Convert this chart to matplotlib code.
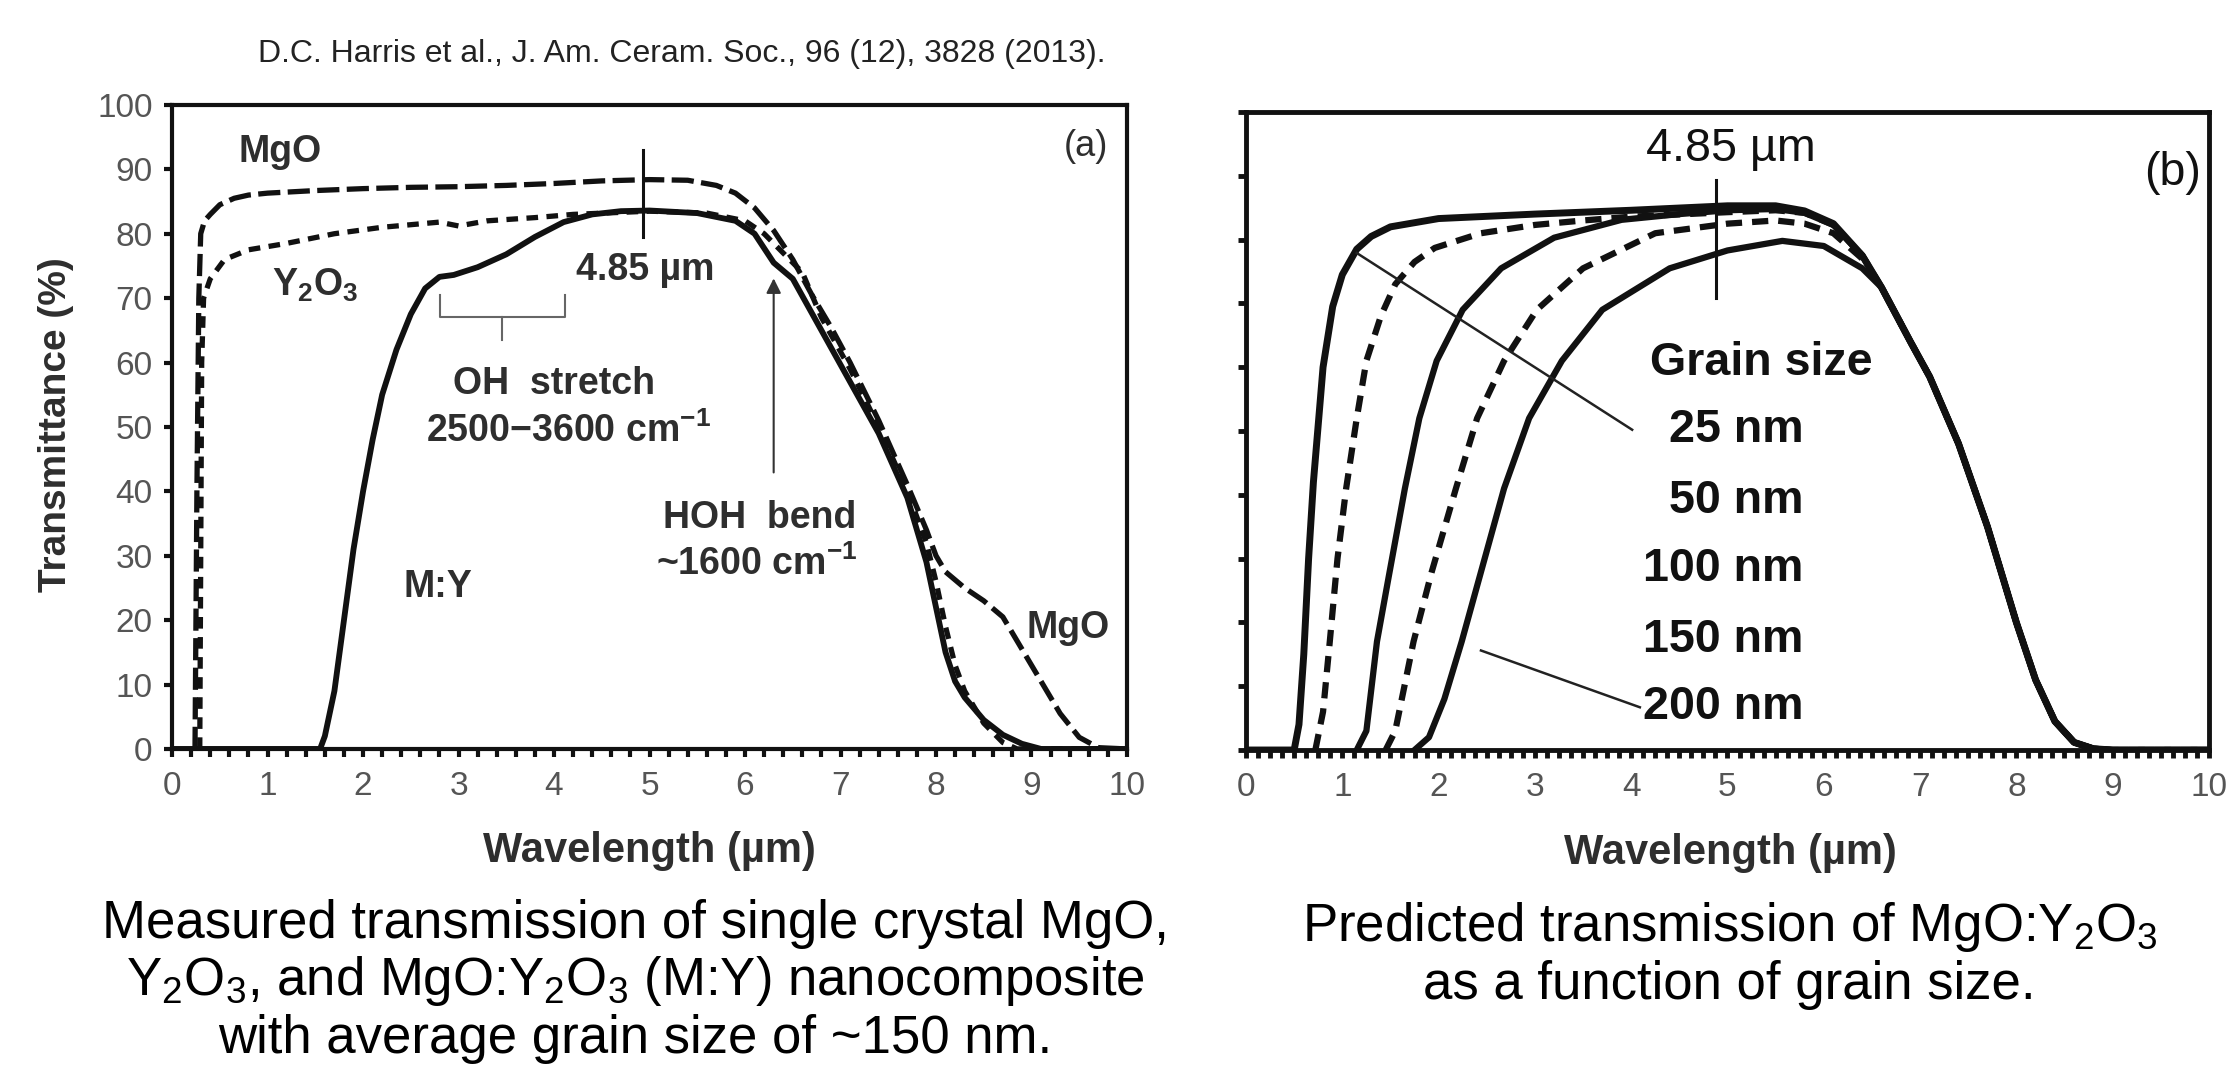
import matplotlib
matplotlib.use('Agg')
import matplotlib.pyplot as plt
from matplotlib import font_manager as fm
from matplotlib.ticker import MultipleLocator

plt.rcParams['font.family'] = ['Liberation Sans', 'DejaVu Sans']
plt.rcParams['mathtext.default'] = 'regular'

# narrow face for panel (b) labels, if it is there
names = {f.name for f in fm.fontManager.ttflist}
if 'Liberation Sans Narrow' in names:
    narrow, nscale = 'Liberation Sans Narrow', 1.0
else:
    narrow, nscale = 'Liberation Sans', 0.82

# ---- panel (a): measured transmittance (%) vs wavelength (um)
mgo_x = [0.24, 0.25, 0.26, 0.28, 0.3, 0.34, 0.4, 0.5, 0.65, 0.8, 1.0, 1.5, 2.0, 2.5, 3.0,
         3.5, 4.0, 4.5, 5.0, 5.4, 5.7, 5.9, 6.1, 6.3, 6.5, 6.7, 6.9, 7.1, 7.4, 7.7, 7.9,
         8.0, 8.1, 8.3, 8.5, 8.7, 8.9, 9.1, 9.3, 9.5, 9.7, 10.0]
mgo_y = [0, 20, 40, 70, 80, 82, 83, 84.5, 85.5, 86, 86.3, 86.7, 87, 87.2, 87.3,
         87.5, 87.8, 88.2, 88.4, 88.3, 87.5, 86.3, 84, 80.5, 76, 70.5, 65.5, 60, 51, 41, 34,
         30, 27.5, 25, 23, 20.5, 15.5, 10.5, 5.5, 1.8, 0.2, 0]

y2o3_x = [0.29, 0.3, 0.31, 0.33, 0.4, 0.55, 0.8, 1.2, 1.7, 2.2, 2.8, 3.0, 3.3, 3.8, 4.2,
          5.0, 5.6, 6.0, 6.2, 6.4, 6.6, 6.8, 7.1, 7.4, 7.7, 7.9, 8.0, 8.1, 8.2, 8.3,
          8.5, 8.7, 8.85, 10.0]
y2o3_y = [0, 30, 60, 70, 73, 76, 77.5, 78.5, 80, 81, 81.8, 81.2, 82, 82.5, 83,
          83.5, 83.2, 82, 80, 77, 74, 67, 59, 50, 40, 32, 26, 19, 13, 9,
          4, 1, 0, 0]

my_x = [0, 1.55, 1.6, 1.7, 1.8, 1.9, 2.0, 2.1, 2.2, 2.35, 2.5, 2.65, 2.8, 2.95, 3.2,
        3.5, 3.8, 4.1, 4.4, 4.7, 5.0, 5.5, 5.9, 6.1, 6.3, 6.5, 6.8, 7.1, 7.4, 7.7,
        7.9, 8.0, 8.1, 8.2, 8.3, 8.5, 8.7, 8.9, 9.1, 10.0]
my_y = [0, 0, 2, 9, 20, 31, 40, 48, 55, 62, 67.5, 71.5, 73.3, 73.6, 74.8,
        76.8, 79.5, 81.8, 83, 83.5, 83.6, 83.2, 82, 80, 75.5, 73, 65, 57, 49, 39,
        29, 22, 15, 10.5, 8, 4.5, 2.2, 0.8, 0, 0]

# ---- panel (b): predicted transmittance for grain sizes 25..200 nm
edge_x = [6.6, 6.9, 7.1, 7.4, 7.7, 8.0, 8.2, 8.4, 8.6, 8.8, 9.0, 10.0]
edge_y = [72.5, 64, 58.5, 48, 35, 20, 11, 4.5, 1.2, 0.2, 0, 0]

g25_x = [0, 0.5, 0.55, 0.6, 0.65, 0.7, 0.8, 0.9, 1.0, 1.15, 1.3, 1.5, 2.0, 3.0, 4.0,
         5.0, 5.5, 5.8, 6.1, 6.4]
g25_y = [0, 0, 4, 15, 30, 42, 60, 69.5, 74.5, 78.5, 80.5, 82, 83.3, 84, 84.6,
         85.3, 85.3, 84.5, 82.5, 77.5]
g50_x = [0.72, 0.8, 0.87, 0.95, 1.04, 1.15, 1.25, 1.4, 1.55, 1.75, 1.96, 2.44, 3.0,
         3.5, 4.0, 5.0, 5.5, 5.8, 6.1, 6.4]
g50_y = [0, 6, 17, 30, 41, 52, 61, 68, 73, 76.5, 78.7, 81, 82.3,
         83, 83.6, 84.3, 84.6, 84.2, 82.3, 77.5]
g100_x = [1.15, 1.25, 1.36, 1.48, 1.65, 1.8, 1.98, 2.25, 2.65, 3.2, 3.9, 4.5, 5.0,
          5.5, 5.8, 6.1, 6.4]
g100_y = [0, 3, 17, 27, 41, 52, 61, 69, 75.5, 80.3, 83.1, 84, 84.6,
          84.8, 84.2, 82.3, 77.5]
g150_x = [1.45, 1.55, 1.74, 1.93, 2.18, 2.4, 2.68, 3.02, 3.5, 4.25, 5.0, 5.5, 5.8,
          6.1, 6.4]
g150_y = [0, 3, 17, 28, 41, 52, 61, 69, 75.5, 81, 82.5, 83, 82.5,
          81, 77]
g200_x = [1.75, 1.9, 2.06, 2.24, 2.46, 2.68, 2.94, 3.28, 3.7, 4.4, 5.0, 5.57, 6.0, 6.4]
g200_y = [0, 2, 8, 17, 29, 41, 52, 61, 69, 75.5, 78.3, 79.8, 79, 75.5]

grain_labels = ['25 nm', '50 nm', '100 nm', '150 nm', '200 nm']
grain_label_y = [50.2, 39.1, 28.3, 17.2, 6.7]

ink = '#111111'
txt = '#2e2e2e'
tick_txt = '#555555'

fig = plt.figure(figsize=(22.29, 10.77), dpi=100)
ax1 = fig.add_axes([0.0772, 0.3046, 0.4284, 0.598])
ax2 = fig.add_axes([0.559, 0.3036, 0.432, 0.5924])

# panel (a) curves
ax1.plot(mgo_x, mgo_y, color=ink, lw=3.8, dashes=(4.2, 1.4))
ax1.plot(y2o3_x, y2o3_y, color=ink, lw=3.8, dashes=(2.2, 1.6))
ax1.plot(my_x, my_y, color=ink, lw=4.2)

ax1.set_xlim(0, 10)
ax1.set_ylim(0, 100)
ax1.xaxis.set_major_locator(MultipleLocator(1))
ax1.xaxis.set_minor_locator(MultipleLocator(0.2))
ax1.yaxis.set_major_locator(MultipleLocator(10))
ax1.tick_params(which='both', direction='out', length=6, width=3, color=ink,
                labelcolor=tick_txt, labelsize=24)
ax1.tick_params(axis='x', pad=10)
ax1.tick_params(axis='y', pad=8)
for s in ax1.spines.values():
    s.set_linewidth(3)
    s.set_color(ink)
ax1.set_xlabel('Wavelength (µm)', fontsize=30, fontweight='bold', color=txt)
ax1.xaxis.set_label_coords(0.5, -0.128)
ax1.set_ylabel('Transmittance (%)', fontsize=28, fontweight='bold', color=txt)
ax1.yaxis.set_label_coords(-0.103, 0.503)

kw = dict(ha='center', va='center', fontsize=27, fontweight='bold', color=txt)
ax1.text(1.13, 92.7, 'MgO', **kw)
ax1.text(1.5, 72.0, 'Y$_2$O$_3$', **kw)
ax1.text(4.96, 74.4, '4.85 µm', **kw)
ax1.text(4.0, 56.7, 'OH  stretch', **kw)
ax1.text(4.15, 49.3, '2500\u22123600 cm$^{-1}$', **kw)
ax1.text(6.15, 35.8, 'HOH  bend', **kw)
ax1.text(6.12, 28.7, '~1600 cm$^{-1}$', **kw)
ax1.text(2.78, 25.2, 'M:Y', **kw)
ax1.text(9.38, 18.8, 'MgO', **kw)
ax1.text(9.57, 93.6, '(a)', ha='center', va='center', fontsize=26, color=txt)

ax1.plot([4.93, 4.93], [79.5, 93], color=ink, lw=2.2)
ax1.plot([2.81, 2.81, 4.12, 4.12], [70.5, 67, 67, 70.5], color='#666666', lw=1.5)
ax1.plot([3.46, 3.46], [67, 63.5], color='#666666', lw=1.5)
ax1.annotate('', xy=(6.3, 73.5), xytext=(6.3, 42.5),
             arrowprops=dict(arrowstyle='-|>', color='#333333', lw=1.5,
                             mutation_scale=22))

# panel (b) curves
ax2.plot(g25_x + edge_x, g25_y + edge_y, color=ink, lw=5)
ax2.plot(g50_x + edge_x, g50_y + edge_y, color=ink, lw=4.5, dashes=(2.6, 1.6))
ax2.plot(g100_x + edge_x, g100_y + edge_y, color=ink, lw=4.5)
ax2.plot(g150_x + edge_x, g150_y + edge_y, color=ink, lw=4.5, dashes=(2.6, 1.6))
ax2.plot(g200_x + edge_x, g200_y + edge_y, color=ink, lw=4.5)

ax2.set_xlim(0, 10)
ax2.set_ylim(0, 100)
ax2.xaxis.set_major_locator(MultipleLocator(1))
ax2.xaxis.set_minor_locator(MultipleLocator(0.125))
ax2.yaxis.set_major_locator(MultipleLocator(10))
ax2.tick_params(which='both', direction='out', length=6, width=3.5, color=ink,
                labelcolor=tick_txt, labelsize=24)
ax2.tick_params(axis='x', pad=10)
ax2.tick_params(axis='y', labelleft=False)
for s in ax2.spines.values():
    s.set_linewidth(3.5)
    s.set_color(ink)
ax2.set_xlabel('Wavelength (µm)', fontsize=30, fontweight='bold', color=txt)
ax2.xaxis.set_label_coords(0.503, -0.13)

nkw = dict(family=[narrow, 'DejaVu Sans'], fontsize=41 * nscale, color=ink)
ax2.text(5.04, 94.2, '4.85 µm', ha='center', va='center', **nkw)
ax2.text(9.62, 90.4, '(b)', ha='center', va='center', **nkw)
ax2.text(5.35, 60.7, 'Grain size', ha='center', va='center', fontweight='bold', **nkw)
for lab, yy in zip(grain_labels, grain_label_y):
    ax2.text(5.79, yy, lab, ha='right', va='center', fontweight='bold', **nkw)
ax2.plot([4.88, 4.88], [70.8, 89.3], color=ink, lw=2.2)
ax2.plot([1.15, 4.01], [77.9, 50.2], color='#222222', lw=1.8)
ax2.plot([2.44, 4.09], [15.6, 6.7], color='#222222', lw=1.8)

# source line and captions
fig.text(0.306, 0.95, 'D.C. Harris et al., J. Am. Ceram. Soc., 96 (12), 3828 (2013).',
         ha='center', va='center', fontsize=23, color='#222222')
cap = dict(ha='center', va='center', fontsize=38, color='black')
fig.text(0.285, 0.142, 'Measured transmission of single crystal MgO,', **cap)
fig.text(0.285, 0.089, 'Y$_2$O$_3$, and MgO:Y$_2$O$_3$ (M:Y) nanocomposite', **cap)
fig.text(0.285, 0.035, 'with average grain size of ~150 nm.', **cap)
fig.text(0.776, 0.139, 'Predicted transmission of MgO:Y$_2$O$_3$', **cap)
fig.text(0.776, 0.085, 'as a function of grain size.', **cap)

fig.savefig('out.png', dpi=100)
